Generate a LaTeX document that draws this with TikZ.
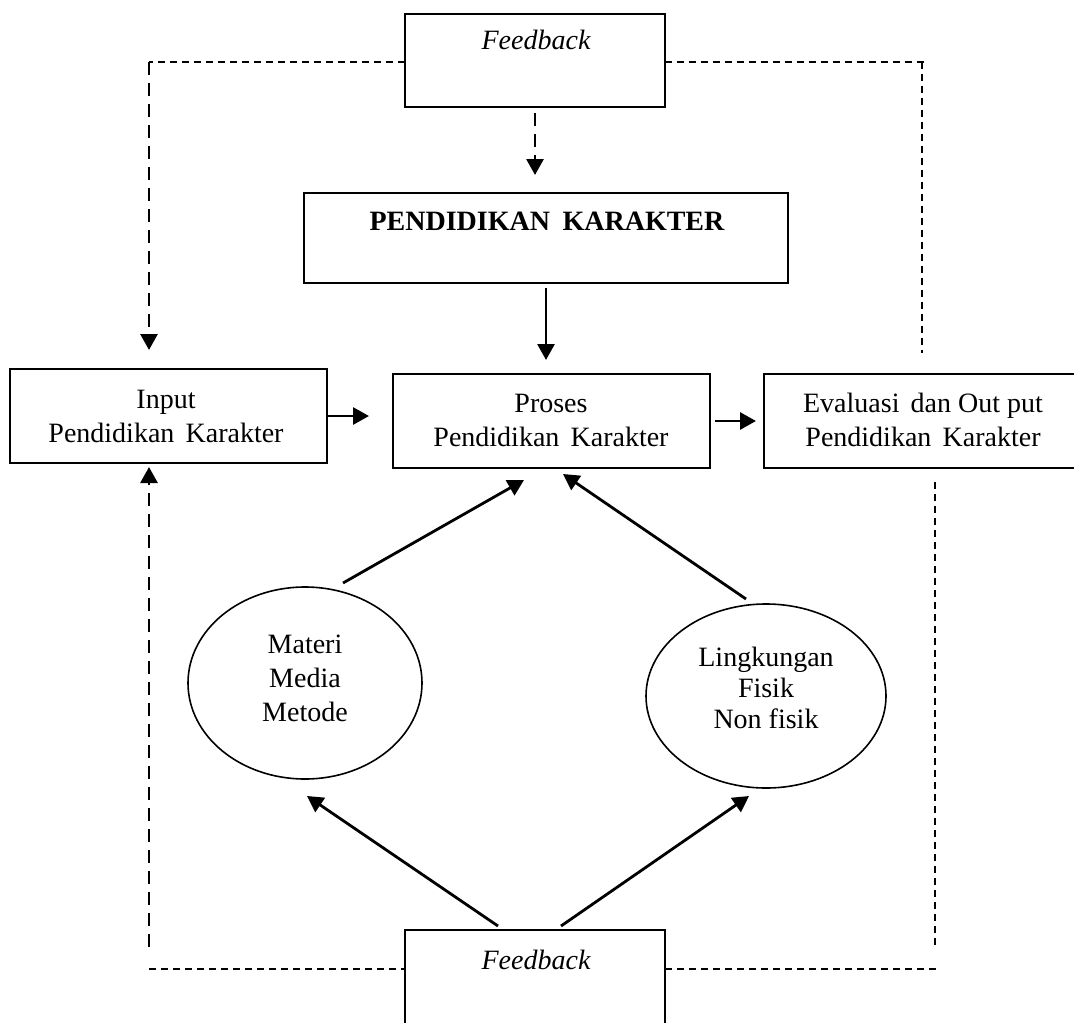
\documentclass[tikz,border=0pt]{standalone}
\usepackage{fontspec}
\setmainfont{Liberation Serif}
\usetikzlibrary{arrows.meta,shapes.geometric,calc}
\begin{document}
\begin{tikzpicture}[x=0.5pt,y=-0.5pt,
  box/.style={draw,line width=1pt,rectangle,inner sep=0pt,outer sep=0pt},
  oval/.style={draw,line width=0.8pt,ellipse,inner sep=0pt,outer sep=0pt},
  txt/.style={font=\fontsize{14}{17}\selectfont,align=center,inner sep=0pt,anchor=base},
  arr/.style={line width=1.4pt,-{Triangle[length=8pt,width=8.5pt]}},
  thk/.style={line width=1.4pt,dash pattern=on 6.5pt off 4pt},
  thn/.style={line width=0.7pt,dash pattern=on 3.5pt off 2.5pt}]
\useasboundingbox (0,0) rectangle (1074,1022);
\fill[white] (0,0) rectangle (1074,1022);
\clip (0,0) rectangle (1074,1022);

% boxes
\node[box,minimum width=130pt,minimum height=46.5pt] (fbtop) at (535,60.5) {};
\node[txt,font=\fontsize{14}{17}\selectfont\itshape] (fbtoptext) at (536,50) {Feedback};

\node[box,minimum width=242pt,minimum height=45pt] (pk) at (546,238) {};
\node[txt,font=\fontsize{14}{17}\selectfont\bfseries] (pktext) at (547,230) {PENDIDIKAN\hspace{0.45em}KARAKTER};

\node[box,minimum width=158.5pt,minimum height=47pt] (input) at (168.5,416) {};
\node[txt] (inputtext) at (166,442) {Input\\Pendidikan\hspace{0.4em}Karakter};

\node[box,minimum width=158.5pt,minimum height=47pt] (proses) at (551.5,421) {};
\node[txt] (prosestext) at (551,446) {Proses\\Pendidikan\hspace{0.4em}Karakter};

\node[box,minimum width=158pt,minimum height=47pt] (eval) at (922,421) {};
\node[txt] (evaltext) at (923,446) {Evaluasi\hspace{0.4em}dan Out put\\Pendidikan\hspace{0.4em}Karakter};

\node[oval,minimum width=117pt,minimum height=96pt] (materi) at (305,683) {};
\node[txt] (materitext) at (305,721) {Materi\\Media\\Metode};

\node[oval,minimum width=120pt,minimum height=92pt] (ling) at (766,696) {};
\node[txt,font=\fontsize{14}{15.5}\selectfont] (lingtext) at (766,728) {Lingkungan\\Fisik\\Non fisik};

\node[box,minimum width=130pt,minimum height=48pt] (fbbot) at (535,978) {};
\node[txt,font=\fontsize{14}{17}\selectfont\itshape] (fbbottext) at (536,969) {Feedback};

% free ends of the dashed feedback lines
\coordinate (tl) at (149,62);
\coordinate (tr) at (922,62);
\coordinate (trx) at (928,62);
\coordinate (rv1) at (922,353);
\coordinate (rv2a) at (935,482);
\coordinate (rv2b) at (935,947);
\coordinate (bl) at (149,947);
\coordinate (bhl) at (149,969);
\coordinate (bhr) at (938,969);

% dashed feedback lines
\draw[thn] (fbtop.west |- tl) -- (tl);
\draw[thn] (fbtop.east |- tl) -- (trx);
\draw[arr,thk,shorten >=9.5pt] (tl) -- (tl |- input.north);
\draw[thn] (tr) -- (rv1);
\draw[thn] (rv2a) -- (rv2b);
\draw[arr,thk,shorten >=2pt] (bl) -- (bl |- input.south);
\draw[thn] (bhl) -- (fbbot.west |- bhl);
\draw[thn] (fbbot.east |- bhl) -- (bhr);
\draw[arr,thk,shorten <=3pt,shorten >=9pt] (fbtop.south) -- (fbtop.south |- pk.north);

% solid arrows
\draw[arr,shorten <=2.5pt,shorten >=7pt] (pk.south) -- (pk.south |- proses.north);
\draw[arr,shorten >=12pt] (input.east) -- (input.east -| proses.west);
\draw[arr,shorten <=2.5pt,shorten >=4pt] (proses.east) -- (eval.west);
\draw[arr] ($(materi.center)+(38,-100)$) -- ($(proses.south)+(-27.5,12)$);
\draw[arr] ($(ling.center)+(-20,-97)$) -- ($(proses.south)+(11.5,6)$);
\draw[arr] ($(fbbot.north)+(-37,-4)$) -- ($(materi.center)+(2,113)$);
\draw[arr] ($(fbbot.north)+(26,-4)$) -- ($(ling.center)+(-17,100)$);
\end{tikzpicture}
\end{document}
